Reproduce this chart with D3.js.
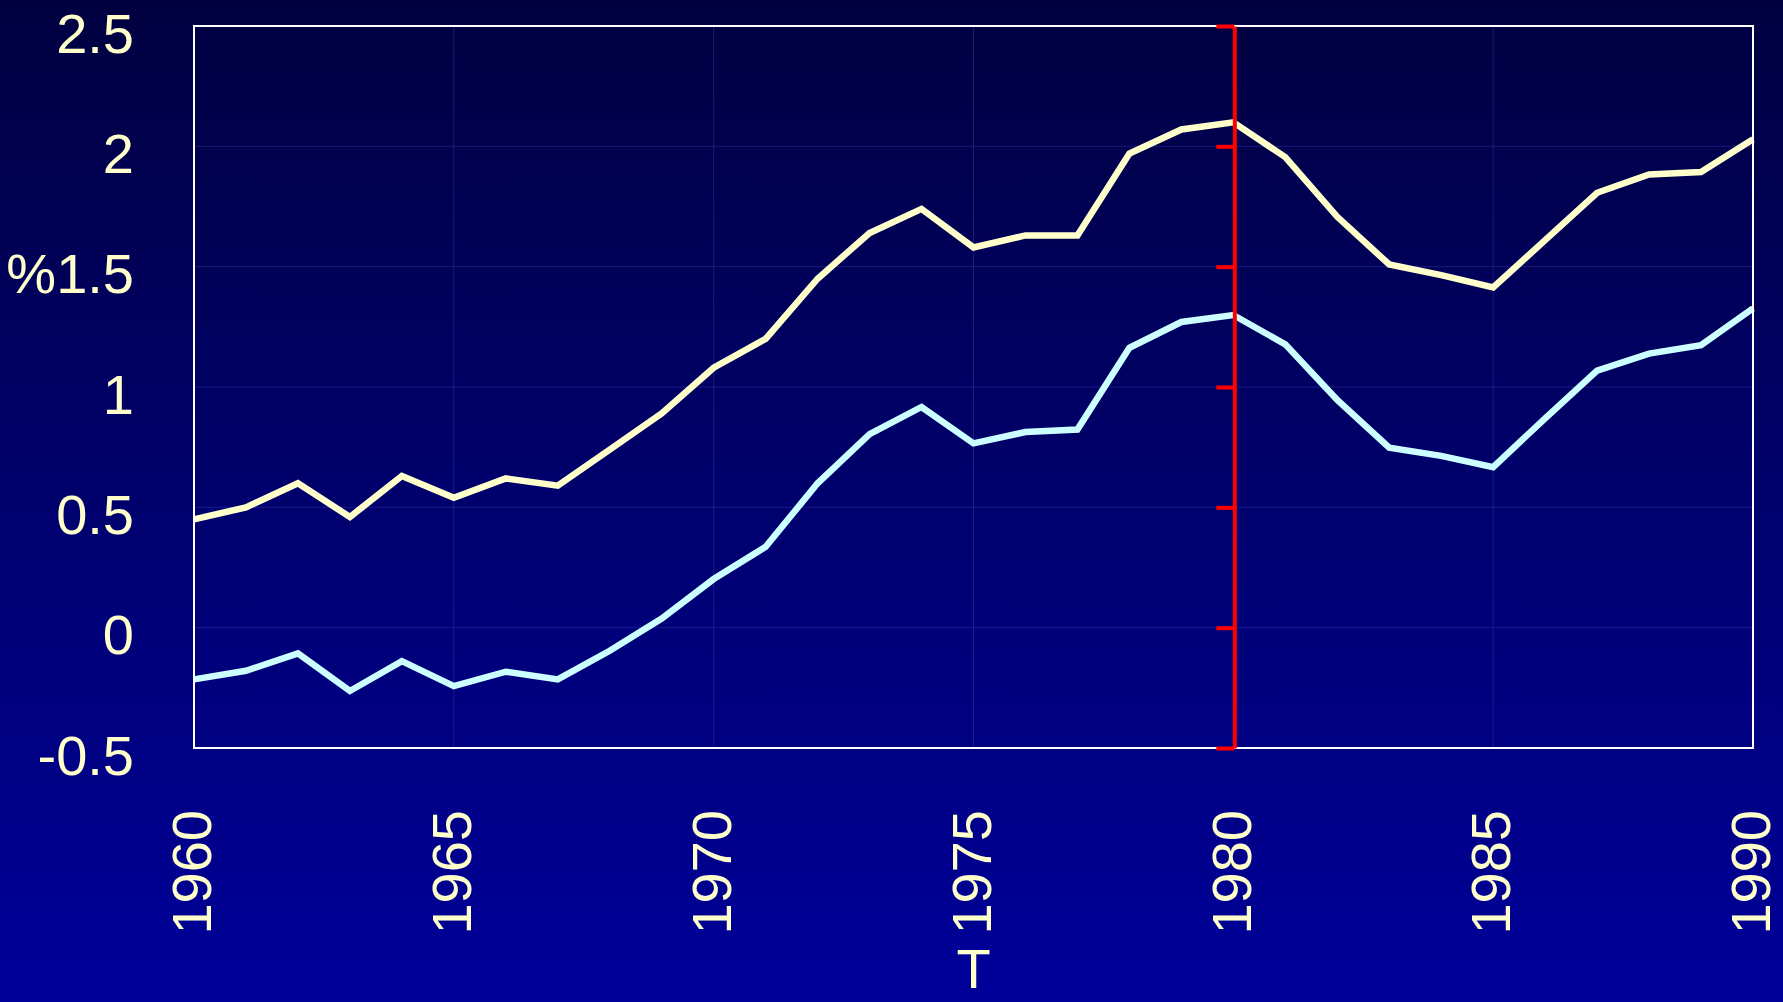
<!DOCTYPE html>
<html>
<head>
<meta charset="utf-8">
<script src="https://cdn.jsdelivr.net/npm/d3@7"></script>
<style>
  html, body { margin: 0; padding: 0; overflow: hidden; }
  body { width: 1783px; height: 1002px; }
  text { font-family: "Liberation Sans", Arial, sans-serif; fill: #ffffcc; }
</style>
</head>
<body>
<div id="chart"></div>
<script>
const years = [1960, 1961, 1962, 1963, 1964, 1965, 1966, 1967, 1968, 1969,
               1970, 1971, 1972, 1973, 1974, 1975, 1976, 1977, 1978, 1979,
               1980, 1981, 1982, 1983, 1984, 1985, 1986, 1987, 1988, 1989, 1990];

const upperSeries = [0.45, 0.50, 0.60, 0.46, 0.63, 0.54, 0.62, 0.59, 0.74, 0.89,
                     1.08, 1.20, 1.45, 1.64, 1.74, 1.58, 1.63, 1.63, 1.97, 2.07,
                     2.10, 1.955, 1.707, 1.509, 1.465, 1.414, 1.61, 1.807, 1.883, 1.893, 2.029];

const lowerSeries = [-0.215, -0.179, -0.107, -0.263, -0.139, -0.243, -0.183, -0.215, -0.096, 0.038,
                     0.202, 0.336, 0.60, 0.804, 0.917, 0.766, 0.813, 0.823, 1.163, 1.27,
                     1.299, 1.177, 0.946, 0.748, 0.714, 0.667, 0.87, 1.068, 1.139, 1.174, 1.327];

const yTicks = [-0.5, 0, 0.5, 1, 1.5, 2, 2.5];
const yTickLabels = ["-0.5", "0", "0.5", "1", "%1.5", "2", "2.5"];
const xTicks = [1960, 1965, 1970, 1975, 1980, 1985, 1990];
const markerYear = 1980;
const xTitle = "T";

const WIDTH = 1783;
const HEIGHT = 1002;
const margin = { top: 26, right: 30, bottom: 254, left: 194 };
const FONT_SIZE = 56;

const svg = d3.select("#chart").append("svg")
    .attr("width", WIDTH)
    .attr("height", HEIGHT);

// page background gradient
const grad = svg.append("defs").append("linearGradient")
    .attr("id", "bg")
    .attr("x1", 0).attr("y1", 0).attr("x2", 0).attr("y2", 1);
grad.append("stop").attr("offset", "0%").attr("stop-color", "#000040");
grad.append("stop").attr("offset", "100%").attr("stop-color", "#00009a");

svg.append("rect")
    .attr("width", WIDTH)
    .attr("height", HEIGHT)
    .attr("fill", "url(#bg)");

const x = d3.scaleLinear()
    .domain(d3.extent(years))
    .range([margin.left, WIDTH - margin.right]);

const y = d3.scaleLinear()
    .domain([-0.5, 2.5])
    .range([HEIGHT - margin.bottom, margin.top]);

// faint grid
const grid = svg.append("g").attr("class", "grid")
    .attr("stroke", "#3a3ab0")
    .attr("stroke-opacity", 0.45)
    .attr("stroke-width", 1);

grid.selectAll("line.h")
    .data(yTicks.slice(1, -1))
    .join("line")
    .attr("class", "h")
    .attr("x1", x.range()[0]).attr("x2", x.range()[1])
    .attr("y1", d => y(d)).attr("y2", d => y(d));

grid.selectAll("line.v")
    .data(xTicks.slice(1, -1))
    .join("line")
    .attr("class", "v")
    .attr("x1", d => x(d)).attr("x2", d => x(d))
    .attr("y1", y.range()[0]).attr("y2", y.range()[1]);

// y labels
const yAxis = svg.append("g")
    .attr("transform", `translate(${margin.left - 60},0)`)
    .call(d3.axisLeft(y)
        .tickValues(yTicks)
        .tickSize(0)
        .tickFormat((d, i) => yTickLabels[i]));
yAxis.select(".domain").remove();
yAxis.selectAll("text")
    .attr("x", 0)
    .attr("dy", "0.47em")
    .attr("text-anchor", "end")
    .style("font-size", FONT_SIZE + "px")
    .style("font-family", "'Liberation Sans', Arial, sans-serif")
    .attr("fill", "#ffffcc");

// x labels, rotated
const xAxis = svg.append("g")
    .attr("transform", `translate(0,${HEIGHT - margin.bottom})`)
    .call(d3.axisBottom(x)
        .tickValues(xTicks)
        .tickSize(0)
        .tickFormat(d3.format("d")));
xAxis.select(".domain").remove();
xAxis.selectAll("text")
    .attr("transform", "translate(0,62) rotate(-90)")
    .attr("x", 0)
    .attr("y", 0)
    .attr("dy", "0.3em")
    .attr("text-anchor", "end")
    .style("font-size", FONT_SIZE + "px")
    .style("font-family", "'Liberation Sans', Arial, sans-serif")
    .attr("fill", "#ffffcc");

// x title near the bottom edge
svg.append("text")
    .attr("x", (x.range()[0] + x.range()[1]) / 2)
    .attr("y", HEIGHT - 14)
    .attr("text-anchor", "middle")
    .style("font-size", FONT_SIZE + "px")
    .text(xTitle);

// series lines
const line = d3.line()
    .x((d, i) => x(years[i]))
    .y(d => y(d));

const plot = svg.append("g");

plot.append("path")
    .datum(lowerSeries)
    .attr("fill", "none")
    .attr("stroke", "#ccffff")
    .attr("stroke-width", 6.5)
    .attr("d", line);

plot.append("path")
    .datum(upperSeries)
    .attr("fill", "none")
    .attr("stroke", "#ffffcc")
    .attr("stroke-width", 6.5)
    .attr("d", line);

// plot frame
svg.append("rect")
    .attr("x", x.range()[0])
    .attr("y", y.range()[1])
    .attr("width", x.range()[1] - x.range()[0])
    .attr("height", y.range()[0] - y.range()[1])
    .attr("fill", "none")
    .attr("stroke", "#ffffff")
    .attr("stroke-width", 2);

// red marker axis at 1980, drawn over the lines
const marker = svg.append("g")
    .attr("transform", `translate(${x(markerYear) + 1},0)`)
    .call(d3.axisLeft(y)
        .tickValues(yTicks)
        .tickSizeInner(18)
        .tickSizeOuter(0)
        .tickFormat(""));
marker.select(".domain").attr("stroke", "#ff0000").attr("stroke-width", 4);
marker.selectAll(".tick line").attr("stroke", "#ff0000").attr("stroke-width", 4);
</script>
</body>
</html>
